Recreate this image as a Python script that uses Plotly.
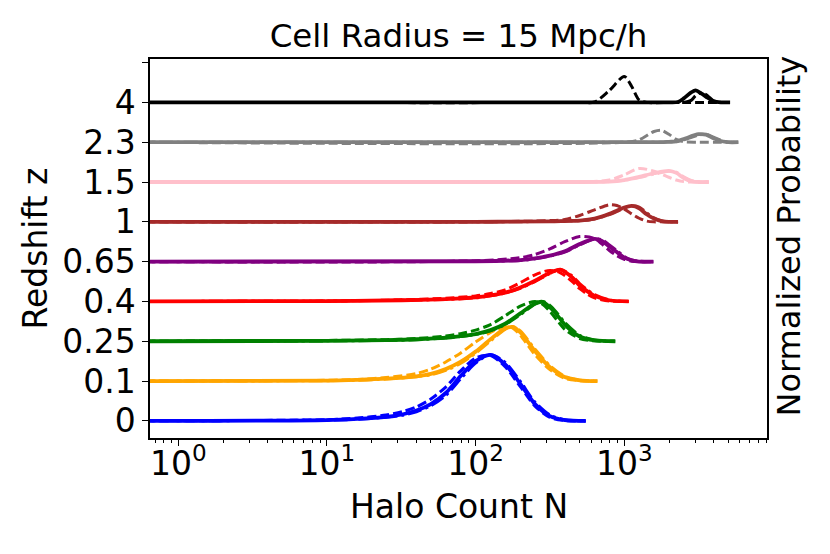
import plotly.graph_objects as go

# redshift labels, one ridge per level (bottom to top)
redshifts = ["0", "0.1", "0.25", "0.4", "0.65", "1", "1.5", "2.3", "4"]
colors = ["blue", "orange", "green", "red", "purple", "brown", "pink", "grey", "black"]

# halo count grids and normalized probabilities
# (solid / dashed / dash-dot model per redshift)
n_z0 = [0.5, 10, 16, 25, 32, 40, 50, 63, 79, 100, 126, 158, 200, 251, 316, 398, 550]
solid_z0 = [0, 0.02, 0.05, 0.10, 0.16, 0.26, 0.42, 0.70, 1.12, 1.50, 1.66, 1.42, 0.93, 0.42, 0.12, 0.02, 0]
dash_z0 = [0, 0.03, 0.07, 0.15, 0.23, 0.35, 0.55, 0.85, 1.25, 1.58, 1.64, 1.36, 0.86, 0.37, 0.09, 0.01, 0]
dashdot_z0 = [0, 0.02, 0.04, 0.09, 0.14, 0.23, 0.38, 0.64, 1.05, 1.45, 1.66, 1.47, 0.99, 0.47, 0.15, 0.03, 0]

n_z01 = [0.5, 10, 16, 25, 40, 50, 63, 79, 100, 126, 158, 178, 200, 251, 316, 398, 501, 660]
solid_z01 = [0, 0.01, 0.03, 0.06, 0.12, 0.18, 0.30, 0.48, 0.74, 1.05, 1.32, 1.36, 1.22, 0.75, 0.35, 0.10, 0.02, 0]
dash_z01 = [0, 0.02, 0.04, 0.09, 0.19, 0.30, 0.48, 0.70, 0.98, 1.22, 1.37, 1.33, 1.15, 0.66, 0.29, 0.07, 0.01, 0]
dashdot_z01 = [0, 0.01, 0.02, 0.05, 0.11, 0.16, 0.27, 0.44, 0.70, 1.01, 1.30, 1.36, 1.26, 0.80, 0.39, 0.12, 0.02, 0]

n_z025 = [0.5, 10, 25, 40, 63, 79, 100, 126, 158, 200, 251, 282, 316, 355, 398, 501, 631, 870]
solid_z025 = [0, 0.01, 0.03, 0.05, 0.09, 0.13, 0.18, 0.28, 0.44, 0.70, 0.95, 0.99, 0.85, 0.65, 0.42, 0.12, 0.02, 0]
dash_z025 = [0, 0.02, 0.04, 0.07, 0.13, 0.19, 0.28, 0.42, 0.64, 0.88, 1.00, 0.93, 0.75, 0.52, 0.30, 0.07, 0.01, 0]
dashdot_z025 = [0, 0.01, 0.02, 0.04, 0.08, 0.12, 0.17, 0.26, 0.42, 0.67, 0.93, 1.00, 0.90, 0.70, 0.47, 0.15, 0.03, 0]

n_z04 = [0.5, 10, 32, 63, 100, 126, 158, 200, 251, 316, 372, 447, 501, 562, 631, 794, 1070]
solid_z04 = [0, 0.01, 0.03, 0.06, 0.10, 0.15, 0.22, 0.35, 0.52, 0.72, 0.80, 0.60, 0.40, 0.26, 0.14, 0.03, 0]
dash_z04 = [0, 0.01, 0.04, 0.08, 0.14, 0.20, 0.29, 0.47, 0.67, 0.78, 0.72, 0.50, 0.32, 0.19, 0.09, 0.01, 0]
dashdot_z04 = [0, 0.01, 0.03, 0.05, 0.09, 0.14, 0.21, 0.33, 0.50, 0.70, 0.80, 0.64, 0.45, 0.30, 0.17, 0.04, 0]

n_z065 = [0.5, 100, 200, 251, 316, 398, 501, 631, 708, 794, 891, 1000, 1122, 1259, 1570]
solid_z065 = [0, 0.01, 0.04, 0.08, 0.15, 0.26, 0.44, 0.57, 0.52, 0.38, 0.24, 0.10, 0.03, 0, 0]
dash_z065 = [0, 0.02, 0.10, 0.18, 0.32, 0.50, 0.63, 0.58, 0.44, 0.28, 0.15, 0.06, 0.01, 0, 0]
dashdot_z065 = [0, 0.01, 0.03, 0.07, 0.14, 0.24, 0.42, 0.57, 0.55, 0.42, 0.28, 0.13, 0.04, 0.01, 0]

n_z1 = [0.5, 100, 316, 398, 501, 631, 794, 891, 1000, 1122, 1259, 1413, 1585, 1778, 1995, 2300]
solid_z1 = [0, 0, 0.01, 0.02, 0.03, 0.08, 0.20, 0.28, 0.36, 0.40, 0.34, 0.19, 0.08, 0.02, 0, 0]
dash_z1 = [0, 0, 0.03, 0.06, 0.16, 0.30, 0.43, 0.41, 0.32, 0.20, 0.09, 0.02, 0, 0, 0, 0]
dashdot_z1 = [0, 0, 0.01, 0.02, 0.03, 0.07, 0.18, 0.26, 0.35, 0.40, 0.37, 0.23, 0.10, 0.03, 0, 0]

n_z15 = [0.5, 316, 794, 1000, 1259, 1585, 1995, 2239, 2512, 2818, 3162, 3700]
solid_z15 = [0, 0, 0.01, 0.05, 0.13, 0.22, 0.28, 0.23, 0.10, 0.02, 0, 0]
dash_z15 = [0, 0, 0.05, 0.18, 0.34, 0.27, 0.12, 0.05, 0.01, 0, 0, 0]
dashdot_z15 = [0, 0, 0.01, 0.04, 0.11, 0.20, 0.27, 0.25, 0.13, 0.04, 0, 0]

n_z23 = [0.5, 1000, 1259, 1585, 1778, 1995, 2239, 2512, 3162, 3548, 3981, 4467, 5012, 5850]
solid_z23 = [0, 0, 0, 0, 0, 0.01, 0.02, 0.08, 0.20, 0.19, 0.10, 0.03, 0, 0]
dash_z23 = [0, 0, 0.06, 0.27, 0.30, 0.20, 0.07, 0.01, 0, 0, 0, 0, 0, 0]
dashdot_z23 = [0, 0, 0, 0, 0, 0.01, 0.01, 0.06, 0.18, 0.20, 0.13, 0.05, 0, 0]

n_z4 = [0.5, 501, 631, 794, 1000, 1122, 1259, 1413, 2000, 2291, 2512, 2818, 3020, 3311, 3631, 3981, 4467, 4677, 5150]
solid_z4 = [0, 0, 0, 0, 0, 0, 0, 0, 0, 0.01, 0.10, 0.25, 0.30, 0.22, 0.12, 0.03, 0, 0, 0]
dash_z4 = [0, 0, 0.01, 0.30, 0.65, 0.40, 0.06, 0, 0, 0, 0, 0, 0, 0, 0, 0, 0, None, None]
dashdot_z4 = [0, 0, 0, 0, 0, 0, 0, 0, 0, 0, 0, 0.05, 0.17, 0.25, 0.17, 0.04, 0, None, None]

grids = [n_z0, n_z01, n_z025, n_z04, n_z065, n_z1, n_z15, n_z23, n_z4]
solids = [solid_z0, solid_z01, solid_z025, solid_z04, solid_z065, solid_z1, solid_z15, solid_z23, solid_z4]
dashes = [dash_z0, dash_z01, dash_z025, dash_z04, dash_z065, dash_z1, dash_z15, dash_z23, dash_z4]
dashdots = [dashdot_z0, dashdot_z01, dashdot_z025, dashdot_z04, dashdot_z065, dashdot_z1, dashdot_z15, dashdot_z23, dashdot_z4]

FONT = "DejaVu Sans"
SIZE = 33

fig = go.Figure()
for level in range(len(redshifts)):
    n = grids[level]
    for prob, dash, width in [(solids[level], "solid", 3.8),
                              (dashes[level], "9px,4px", 3.0),
                              (dashdots[level], "14px,4px,3px,4px", 3.0)]:
        y = [None if p is None else level + p for p in prob]
        fig.add_trace(go.Scatter(x=n, y=y, mode="lines",
                                 line=dict(color=colors[level], width=width, dash=dash,
                                           shape="spline", smoothing=0.8),
                                 connectgaps=False,
                                 showlegend=False, hoverinfo="skip"))

minor_vals = [m * 10 ** e for e in range(-1, 4) for m in range(2, 10)]

fig.update_layout(
    width=830, height=554,
    margin=dict(l=150, r=63, t=59, b=116),
    plot_bgcolor="white", paper_bgcolor="white",
    font=dict(family=FONT, size=SIZE, color="black"),
    title=dict(text="Cell Radius = 15 Mpc/h", x=0.5, xref="paper", xanchor="center",
               y=1 - 36 / 554, yref="container", yanchor="middle",
               font=dict(family=FONT, size=32.5, color="black")),
    xaxis=dict(type="log", range=[-0.19, 3.96],
               tickmode="array", tickvals=[1, 10, 100, 1000],
               ticktext=["10<sup>0</sup>", "10<sup>1</sup>", "10<sup>2</sup>", "10<sup>3</sup>"],
               ticks="outside", ticklen=6, tickwidth=1.3, tickcolor="black",
               ticklabelstandoff=-10,
               minor=dict(tickmode="array", tickvals=minor_vals, ticks="outside",
                          ticklen=3.5, tickwidth=1, tickcolor="black", showgrid=False),
               showline=True, linewidth=1.5, linecolor="black", mirror=True,
               showgrid=False, zeroline=False),
    yaxis=dict(range=[-0.43, 9.09],
               tickmode="array", tickvals=list(range(10)), ticktext=redshifts + [""],
               ticks="outside", ticklen=6, tickwidth=1.3, tickcolor="black",
               showline=True, linewidth=1.5, linecolor="black", mirror=True,
               showgrid=False, zeroline=False),
    annotations=[
        dict(text="Halo Count N", xref="paper", yref="paper", x=0.5, y=0,
             xanchor="center", yanchor="middle", yshift=-68, showarrow=False,
             font=dict(family=FONT, size=SIZE)),
        dict(text="Redshift z", xref="paper", yref="paper", x=0, y=0.5,
             xanchor="center", yanchor="middle", xshift=-115, textangle=-90,
             showarrow=False, font=dict(family=FONT, size=SIZE)),
        dict(text="Normalized Probability", xref="paper", yref="paper", x=1, y=0.5,
             xanchor="center", yanchor="middle", xshift=21, yshift=12, textangle=-90,
             showarrow=False, font=dict(family=FONT, size=32)),
    ],
)

# the page's default body margin would shift the figure by 8px
fig.write_html("out.html", config={"displayModeBar": False},
               post_script="document.body.style.margin='0px';")
